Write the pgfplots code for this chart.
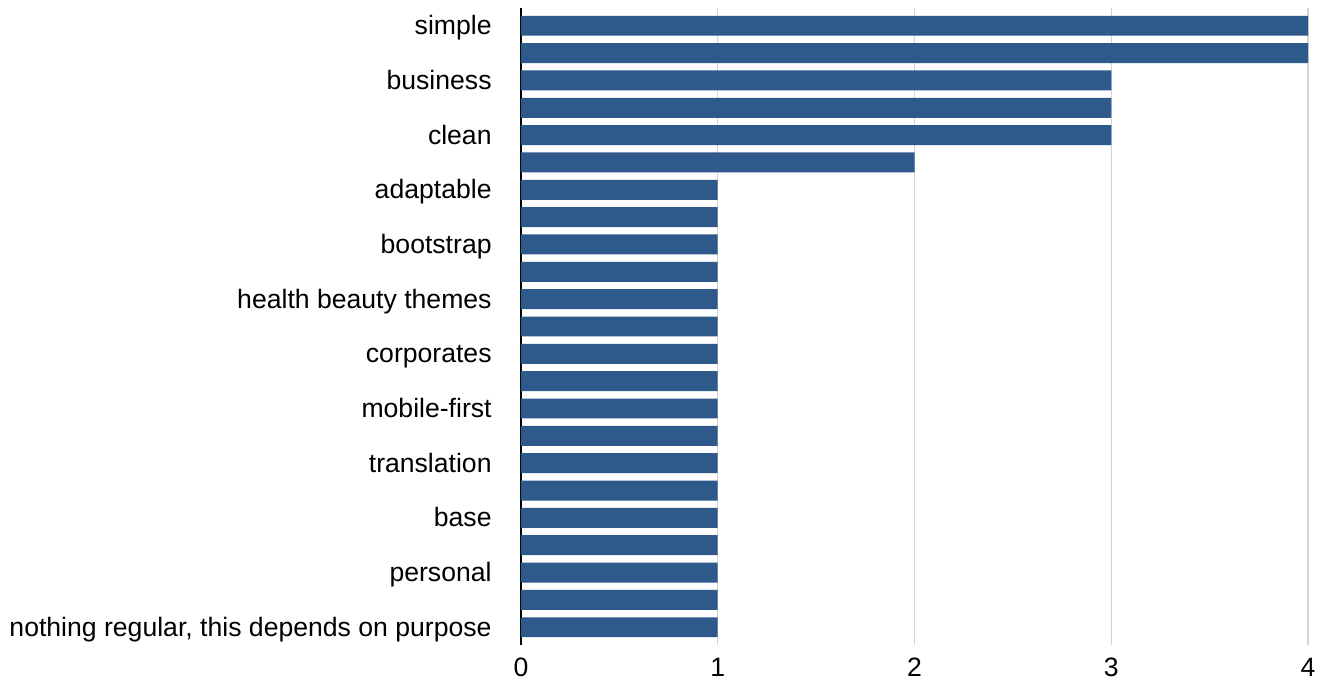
\documentclass[border=0pt]{standalone}
\usepackage{fontspec}
\setmainfont{Liberation Sans}
\usepackage{pgfplots}
\pgfplotsset{compat=1.18}
\definecolor{barblue}{HTML}{2E598B}
\definecolor{gridgray}{HTML}{D4D4D4}

\begin{document}
\fontsize{13.3}{16}\selectfont
\begin{tikzpicture}
  % canvas of the reference, in units of 0.5pt per pixel
  \path[use as bounding box] (-260.5pt,-19pt) rectangle (400pt,322.5pt);
  \begin{axis}[
    scale only axis,
    width=393.5pt, height=318.5pt,
    xbar, bar width=0.73,
    xmin=0, xmax=4,
    ymin=-0.65, ymax=22.65,
    y dir=reverse,
    xtick={0,1,2,3,4},
    ytick={0,2,...,22},
    yticklabels={simple, business, clean, adaptable, bootstrap,
      health beauty themes, corporates, mobile-first, translation,
      base, personal, {nothing regular, this depends on purpose}},
    major tick length=0pt,
    axis y line=left,
    y axis line style={black, line width=1pt, -},
    axis x line=bottom,
    x axis line style={draw=none},
    xmajorgrids,
    major grid style={gridgray, line width=0.75pt},
    yticklabel style={inner sep=0pt, xshift=-14.5pt, yshift=-1pt,
      text height=0.73em, text depth=0.21em},
    xticklabel style={inner sep=0pt, yshift=-6.5pt},
    /pgf/number format/assume math mode=true,
    ticklabel style={font=\fontsize{13.3}{16}\selectfont},
  ]
    \addplot[fill=barblue, draw=none] coordinates {
      (4,0) (4,1) (3,2) (3,3) (3,4) (2,5)
      (1,6) (1,7) (1,8) (1,9) (1,10) (1,11)
      (1,12) (1,13) (1,14) (1,15) (1,16) (1,17)
      (1,18) (1,19) (1,20) (1,21) (1,22)
    };
  \end{axis}
\end{tikzpicture}
\end{document}
